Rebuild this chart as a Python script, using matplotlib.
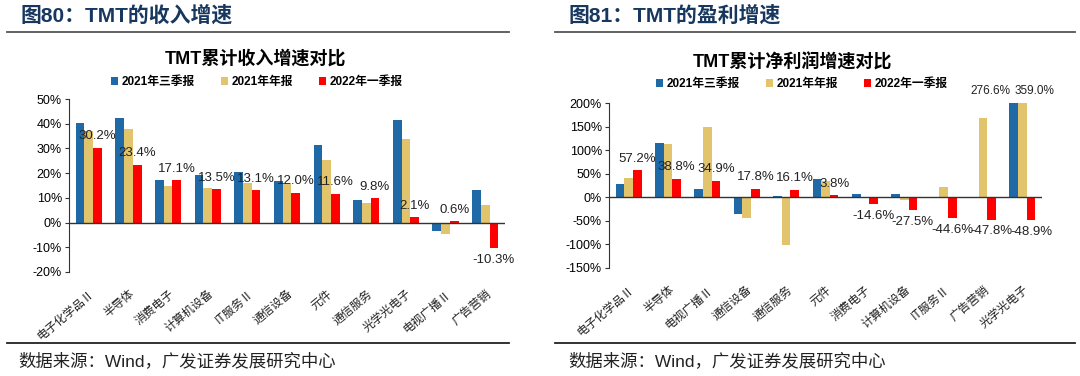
import numpy as np
import matplotlib
matplotlib.use("Agg")
import matplotlib.pyplot as plt
from matplotlib.patches import Patch
from matplotlib.lines import Line2D

plt.rcParams['font.family'] = ['Liberation Sans', 'Noto Sans CJK SC', 'DejaVu Sans']
CJK = ['Noto Sans CJK SC', 'DejaVu Sans']

# ---------------------------------------------------------------- data
series = ["2021年三季报", "2021年年报", "2022年一季报"]
colors = ['#1F69A6', '#E2C46C', '#FF0000']

rev_cats = ["电子化学品Ⅱ", "半导体", "消费电子", "计算机设备", "IT服务Ⅱ", "通信设备",
            "元件", "通信服务", "光学光电子", "电视广播Ⅱ", "广告营销"]
rev_q3 = [40.2, 42.2, 17.3, 19.3, 20.6, 17.0, 31.4, 9.2, 41.6, -3.5, 13.0]
rev_fy = [37.2, 37.8, 15.0, 14.0, 16.0, 16.0, 25.5, 8.0, 34.0, -4.6, 7.0]
rev_q1 = [30.2, 23.4, 17.1, 13.5, 13.1, 12.0, 11.6, 9.8, 2.1, 0.6, -10.3]

np_cats = ["电子化学品Ⅱ", "半导体", "电视广播Ⅱ", "通信设备", "通信服务", "元件",
           "消费电子", "计算机设备", "IT服务Ⅱ", "广告营销", "光学光电子"]
np_q3 = [27.5, 116.0, 17.6, -34.5, 2.0, 39.6, 6.4, 7.8, -1.0, -1.0, 276.6]
np_fy = [41.7, 113.0, 150.0, -43.0, -101.7, 34.0, 0.5, -6.4, 21.8, 169.0, 359.0]
np_q1 = [57.2, 38.8, 34.9, 17.8, 16.1, 3.8, -14.6, -27.5, -44.6, -47.8, -48.9]

# ---------------------------------------------------------------- figure
fig = plt.figure(figsize=(10.8, 3.76), dpi=100)
W, H = 1080.0, 376.0


def fx(px):
    return px / W


def fy(py):
    return 1 - py / H


def draw_panel(ax, cats, vals, ylim, ystep, title, legend_x, legend_y, title_x, title_y):
    x = np.arange(len(cats))
    w = 0.22
    for k, (v, c) in enumerate(zip(vals, colors)):
        ax.bar(x + (k - 1) * w, v, width=w, color=c, zorder=2)

    # labels for the latest quarter
    for xi, v in zip(x, vals[2]):
        if v >= 0:
            ax.annotate(f"{v:.1f}%", (xi + w, v), xytext=(0, 4), textcoords='offset points',
                        ha='center', va='bottom', fontsize=9.5, color='#222222')
        else:
            ax.annotate(f"{v:.1f}%", (xi + w, v), xytext=(0, -4), textcoords='offset points',
                        ha='center', va='top', fontsize=9.5, color='#222222')

    ax.set_xlim(-0.5, len(cats) - 0.5)
    ax.set_ylim(*ylim)
    ax.set_yticks(np.arange(ylim[0], ylim[1] + 1, ystep))
    ax.set_yticklabels([f"{int(t)}%" for t in ax.get_yticks()], fontsize=9)
    ax.axhline(0, color='#333333', lw=1.0, zorder=3)
    for s in ['top', 'right', 'bottom']:
        ax.spines[s].set_visible(False)
    ax.spines['left'].set_color('#333333')
    ax.tick_params(axis='y', length=3, color='#333333', pad=2)
    ax.tick_params(axis='x', length=0, pad=11)
    ax.set_xticks(x)
    ax.set_xticklabels(cats, rotation=40, ha='right', rotation_mode='anchor',
                       fontsize=8.5, family=CJK, color='#222222')

    fig.text(title_x, title_y, title, ha='center', va='center', fontsize=13,
             fontweight='bold', family=['Liberation Sans', 'Noto Sans CJK SC'])
    handles = [Patch(facecolor=c, edgecolor='none') for c in colors]
    fig.legend(handles, series, loc='center', bbox_to_anchor=(legend_x, legend_y), ncol=3,
               frameon=False, handlelength=0.6, handleheight=0.6, handletextpad=0.3,
               columnspacing=2.2, prop={'size': 8.5, 'weight': 'bold',
                                        'family': ['Liberation Sans', 'Noto Sans CJK SC']})


# left panel: revenue
ax1 = fig.add_axes([fx(69), fy(272), fx(505 - 69), (272 - 99) / H])
draw_panel(ax1, rev_cats, [rev_q3, rev_fy, rev_q1], (-20, 50), 10,
           "TMT累计收入增速对比", fx(257), fy(82), fx(255), fy(59))

# right panel: net profit
ax2 = fig.add_axes([fx(609), fy(268), fx(1042 - 609), (268 - 103) / H])
draw_panel(ax2, np_cats, [np_q3, np_fy, np_q1], (-150, 200), 50,
           "TMT累计净利润增速对比", fx(802), fy(84), fx(792), fy(62))

# clipped bars get their values written above the axes
last = len(np_cats) - 1
ax2.annotate(f"{np_q3[last]:.1f}%", (last - 0.82, 200), xytext=(0, 4), textcoords='offset points',
             ha='center', va='bottom', fontsize=8.5, color='#222222', annotation_clip=False)
ax2.annotate(f"{np_fy[last]:.1f}%", (last + 0.3, 200), xytext=(0, 4), textcoords='offset points',
             ha='center', va='bottom', fontsize=8.5, color='#222222', annotation_clip=False)

# ---------------------------------------------------------------- headers / footers
hdr_font = ['Liberation Sans', 'Noto Sans CJK SC']
fig.text(fx(20), fy(15), "图80：TMT的收入增速", ha='left', va='center', fontsize=15,
         fontweight='bold', color='#17375E', family=hdr_font)
fig.text(fx(568), fy(15), "图81：TMT的盈利增速", ha='left', va='center', fontsize=15,
         fontweight='bold', color='#17375E', family=hdr_font)

for x0, x1 in [(7, 509), (555, 1075)]:
    fig.add_artist(Line2D([fx(x0), fx(x1)], [fy(32), fy(32)], color='#555555', lw=1.3))
    fig.add_artist(Line2D([fx(x0), fx(x1)], [fy(343), fy(343)], color='#222222', lw=1.3))

fig.text(fx(18), fy(361), "数据来源：Wind，广发证券发展研究中心", ha='left', va='center',
         fontsize=12.5, color='#222222', family=hdr_font)
fig.text(fx(568), fy(361), "数据来源：Wind，广发证券发展研究中心", ha='left', va='center',
         fontsize=12.5, color='#222222', family=hdr_font)

fig.savefig("out.png", dpi=100)
